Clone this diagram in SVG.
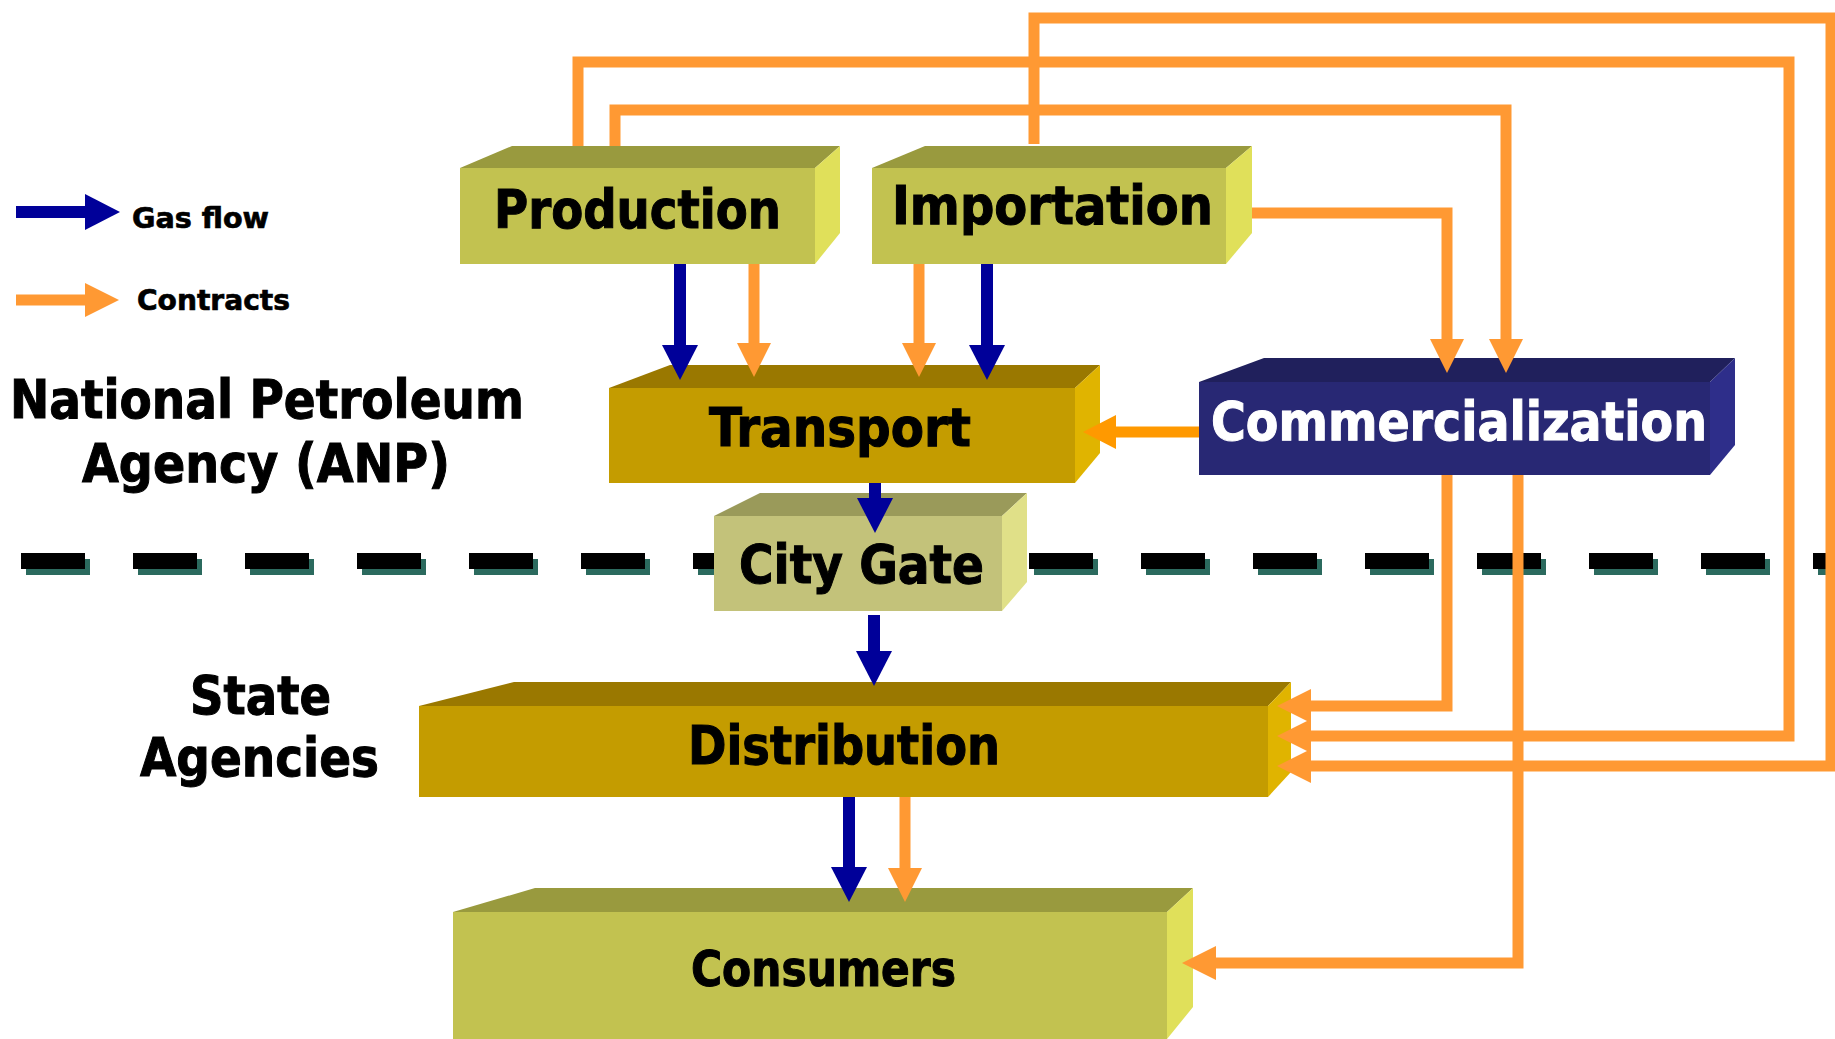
<svg xmlns="http://www.w3.org/2000/svg" width="1835" height="1039" viewBox="0 0 1835 1039">
  <style>
    .lbl { font-family: "DejaVu Sans Condensed", "DejaVu Sans", sans-serif; font-weight: bold; fill: #000; stroke: #000; stroke-width: 1; }
    .big { font-size: 54px; }
    .leg { font-size: 28px; stroke-width: 0.6; }
    .white { fill: #fff; stroke: #fff; }
    .flow { fill: none; stroke: #000099; stroke-width: 12; stroke-linejoin: miter; }
    .deal { fill: none; stroke: #FF9933; stroke-width: 11; stroke-linejoin: miter; }
    .deal2 { fill: none; stroke: #FF9900; stroke-width: 11; }
    .ol-front { fill: #C2C250; } .ol-top { fill: #999A3E; } .ol-side { fill: #E0E05A; }
    .au-front { fill: #C49C00; } .au-top { fill: #9A7800; } .au-side { fill: #E0B400; }
    .cg-front { fill: #C3C27A; } .cg-top { fill: #9A9A5A; } .cg-side { fill: #E0E088; }
    .nv-front { fill: #282874; } .nv-top { fill: #20205C; } .nv-side { fill: #2E2E8A; }
    .dash { stroke: #000; stroke-width: 16; stroke-dasharray: 64 48; }
    .dash-sh { stroke: #2B6A5E; stroke-width: 16; stroke-dasharray: 64 48; }
  </style>
  <defs>
    <marker id="hBlue" markerUnits="userSpaceOnUse" markerWidth="36" markerHeight="36" viewBox="0 -18 36 36" refX="0" refY="0" orient="auto" overflow="visible">
      <path d="M0,-18 L35,0 L0,18 z" fill="#000099"/>
    </marker>
    <marker id="hOrange" markerUnits="userSpaceOnUse" markerWidth="36" markerHeight="36" viewBox="0 -18 36 36" refX="0" refY="0" orient="auto" overflow="visible">
      <path d="M0,-17 L34,0 L0,17 z" fill="#FF9933"/>
    </marker>
    <marker id="hOrange2" markerUnits="userSpaceOnUse" markerWidth="36" markerHeight="36" viewBox="0 -18 36 36" refX="0" refY="0" orient="auto" overflow="visible">
      <path d="M0,-17 L33,0 L0,17 z" fill="#FF9900"/>
    </marker>
  </defs>

  <rect width="1835" height="1039" fill="#fff"/>

  <!-- regulator boundary: dashed line with teal shadow -->
  <g id="boundary">
    <line class="dash-sh" x1="26" y1="567" x2="1840" y2="567"/>
    <line class="dash" x1="21" y1="561" x2="1835" y2="561"/>
  </g>

  <!-- legend -->
  <g id="legend">
    <path class="flow" d="M16,212 H85" stroke-width="11" marker-end="url(#hBlue)"/>
    <text class="lbl leg" x="132" y="228" textLength="137" lengthAdjust="spacingAndGlyphs">Gas flow</text>
    <path class="deal" d="M16,300 H85" marker-end="url(#hOrange)"/>
    <text class="lbl leg" x="137" y="310" textLength="153" lengthAdjust="spacingAndGlyphs">Contracts</text>
  </g>

  <!-- jurisdiction labels -->
  <g id="anp-label">
    <text class="lbl big" x="10" y="418" textLength="514" lengthAdjust="spacingAndGlyphs">National Petroleum</text>
    <text class="lbl big" x="82" y="482" textLength="368" lengthAdjust="spacingAndGlyphs">Agency (ANP)</text>
  </g>
  <g id="state-label">
    <text class="lbl big" x="190" y="714" textLength="141" lengthAdjust="spacingAndGlyphs">State</text>
    <text class="lbl big" x="140" y="776" textLength="239" lengthAdjust="spacingAndGlyphs">Agencies</text>
  </g>

  <!-- nodes: extruded boxes -->
  <g id="production">
    <polygon class="ol-top" points="460,168 512,146 840,146 815,168"/>
    <polygon class="ol-side" points="815,168 840,146 840,233 815,264"/>
    <rect class="ol-front" x="460" y="168" width="355" height="96"/>
    <text class="lbl big" x="494" y="228" textLength="287" lengthAdjust="spacingAndGlyphs">Production</text>
  </g>
  <g id="importation">
    <polygon class="ol-top" points="872,168 925,146 1252,146 1226,168"/>
    <polygon class="ol-side" points="1226,168 1252,146 1252,233 1226,264"/>
    <rect class="ol-front" x="872" y="168" width="354" height="96"/>
    <text class="lbl big" x="892" y="224" textLength="321" lengthAdjust="spacingAndGlyphs">Importation</text>
  </g>
  <g id="transport">
    <polygon class="au-top" points="609,388 670,365 1100,365 1075,388"/>
    <polygon class="au-side" points="1075,388 1100,365 1100,453 1075,483"/>
    <rect class="au-front" x="609" y="388" width="466" height="95"/>
    <text class="lbl big" x="709" y="446" textLength="262" lengthAdjust="spacingAndGlyphs">Transport</text>
  </g>
  <g id="commercialization">
    <polygon class="nv-top" points="1199,382 1264,358 1735,358 1710,382"/>
    <polygon class="nv-side" points="1710,382 1735,358 1735,445 1710,475"/>
    <rect class="nv-front" x="1199" y="382" width="511" height="93"/>
    <text class="lbl big white" x="1211" y="440" textLength="496" lengthAdjust="spacingAndGlyphs">Commercialization</text>
  </g>
  <g id="city-gate">
    <polygon class="cg-top" points="714,516 760,493 1027,493 1002,516"/>
    <polygon class="cg-side" points="1002,516 1027,493 1027,582 1002,611"/>
    <rect class="cg-front" x="714" y="516" width="288" height="95"/>
    <text class="lbl big" x="739" y="583" textLength="245" lengthAdjust="spacingAndGlyphs">City Gate</text>
  </g>
  <g id="distribution">
    <polygon class="au-top" points="419,706 514,682 1291,682 1268,706"/>
    <polygon class="au-side" points="1268,706 1291,682 1291,772 1268,797"/>
    <rect class="au-front" x="419" y="706" width="849" height="91"/>
    <text class="lbl big" x="688" y="764" textLength="312" lengthAdjust="spacingAndGlyphs">Distribution</text>
  </g>
  <g id="consumers">
    <polygon class="ol-top" points="453,912 535,888 1193,888 1167,912"/>
    <polygon class="ol-side" points="1167,912 1193,888 1193,1007 1167,1039"/>
    <rect class="ol-front" x="453" y="912" width="714" height="127"/>
    <text class="lbl" x="691" y="986" font-size="50" textLength="265" lengthAdjust="spacingAndGlyphs">Consumers</text>
  </g>

  <!-- contract and gas-flow connectors, drawn over the boxes so heads overlap the faces -->
  <g id="connectors">
    <path class="deal" d="M578,146 V62 H1789 V736 H1311" marker-end="url(#hOrange)"/>
    <path class="deal" d="M615,146 V110 H1506 V339" marker-end="url(#hOrange)"/>
    <path class="deal" d="M1034,144 V18 H1831 V766 H1311" marker-end="url(#hOrange)"/>
    <path class="deal" d="M1252,213 H1447 V339" marker-end="url(#hOrange)"/>
    <path class="deal" d="M754,264 V343" marker-end="url(#hOrange)"/>
    <path class="deal" d="M919,264 V343" marker-end="url(#hOrange)"/>
    <path class="deal" d="M1447,475 V706 H1311" marker-end="url(#hOrange)"/>
    <path class="deal" d="M1518,475 V963 H1216" marker-end="url(#hOrange)"/>
    <path class="deal" d="M905,797 V868" marker-end="url(#hOrange)"/>
    <path class="deal2" d="M1199,432 H1116" marker-end="url(#hOrange2)"/>
    <path class="flow" d="M680,264 V345" marker-end="url(#hBlue)"/>
    <path class="flow" d="M987,264 V345" marker-end="url(#hBlue)"/>
    <path class="flow" d="M875,483 V498" marker-end="url(#hBlue)"/>
    <path class="flow" d="M874,615 V651" marker-end="url(#hBlue)"/>
    <path class="flow" d="M849,797 V867" marker-end="url(#hBlue)"/>
  </g>
</svg>
